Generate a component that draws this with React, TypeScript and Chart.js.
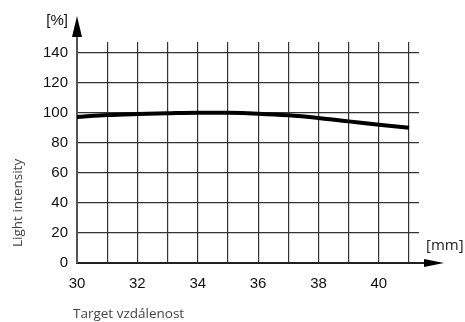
import React, { useEffect, useRef } from "react";
import { Chart, registerables } from "chart.js";

Chart.register(...registerables);

const distances = [30, 31, 32, 33, 34, 35, 36, 37, 38, 39, 40, 41];
const intensity = [97.1, 98.4, 99.1, 99.6, 100, 99.9, 99.3, 98.2, 96.4, 94.2, 92, 90];
const xTickLabels = ["30", "32", "34", "36", "38", "40"];
const yTickLabels = ["0", "20", "40", "60", "80", "100", "120", "140"];
const yUnit = "[%]";
const xUnit = "[mm]";
const yTitle = "Light intensity";
const xTitle = "Target vzdálenost";

const arrowsPlugin = {
  id: "arrowsAndLabels",
  afterDraw(chart: any) {
    const { ctx, chartArea } = chart;
    const left = chartArea.left;
    const bottom = chartArea.bottom;
    ctx.save();
    // y axis extension + arrow
    ctx.strokeStyle = "#555";
    ctx.lineWidth = 2;
    ctx.beginPath();
    ctx.moveTo(left, chartArea.top);
    ctx.lineTo(left, chartArea.top - 8);
    ctx.stroke();
    ctx.fillStyle = "#000";
    ctx.beginPath();
    ctx.moveTo(left, chartArea.top - 26);
    ctx.lineTo(left - 5, chartArea.top - 5);
    ctx.lineTo(left + 5, chartArea.top - 5);
    ctx.closePath();
    ctx.fill();
    // x axis extension + arrow
    ctx.strokeStyle = "#222";
    ctx.beginPath();
    ctx.moveTo(chartArea.right, bottom);
    ctx.lineTo(chartArea.right + 8, bottom);
    ctx.stroke();
    ctx.beginPath();
    ctx.moveTo(chartArea.right + 25, bottom);
    ctx.lineTo(chartArea.right + 5, bottom - 4);
    ctx.lineTo(chartArea.right + 5, bottom + 4);
    ctx.closePath();
    ctx.fill();
    // unit labels
    ctx.fillStyle = "#111";
    ctx.font = "15px 'Liberation Sans', Arial, sans-serif";
    ctx.textAlign = "right";
    ctx.textBaseline = "middle";
    ctx.fillText(yUnit, left - 9, chartArea.top - 21);
    ctx.fillStyle = "#222";
    ctx.font = "15px 'Open Sans', sans-serif";
    ctx.textAlign = "left";
    ctx.fillText(xUnit, chartArea.right + 7, bottom - 17);
    // axis titles
    ctx.fillStyle = "#444";
    ctx.font = "13.5px 'Open Sans', sans-serif";
    ctx.textAlign = "left";
    ctx.fillText(xTitle, left - 4, 314);
    ctx.translate(18, bottom - 16);
    ctx.rotate(-Math.PI / 2);
    ctx.fillText(yTitle, 0, 0);
    ctx.restore();
  },
};

export default function App() {
  const canvasRef = useRef<HTMLCanvasElement | null>(null);

  useEffect(() => {
    if (!canvasRef.current) return;
    const chart = new Chart(canvasRef.current, {
      type: "line",
      data: {
        datasets: [
          {
            data: distances.map((d, i) => ({ x: d, y: intensity[i] })),
            borderColor: "#000",
            borderWidth: 4,
            pointRadius: 0,
            tension: 0.4,
            cubicInterpolationMode: "monotone",
            fill: false,
          },
        ],
      },
      options: {
        responsive: false,
        animation: false,
        layout: { padding: { top: 42, right: 46, left: 0, bottom: 0 } },
        plugins: { legend: { display: false }, tooltip: { enabled: false }, title: { display: false } },
        scales: {
          x: {
            type: "linear",
            min: 30,
            max: 41.33,
            afterFit: (scale: any) => {
              scale.height = 322 - 263;
            },
            grid: { color: "#333", lineWidth: 1.2, drawTicks: false },
            border: { color: "#222", width: 2 },
            ticks: {
              stepSize: 1,
              includeBounds: false,
              padding: 12,
              color: "#111",
              font: { family: "'Liberation Sans', Arial, sans-serif", size: 15 },
              maxRotation: 0,
              autoSkip: false,
              callback: (v: any) => (xTickLabels.includes(String(v)) ? String(v) : ""),
            },
          },
          y: {
            type: "linear",
            min: 0,
            max: 147,
            afterFit: (scale: any) => {
              scale.width = 77;
            },
            grid: { color: "#333", lineWidth: 1.2, drawTicks: false },
            border: { color: "#555", width: 2 },
            ticks: {
              stepSize: 20,
              includeBounds: false,
              padding: 9,
              color: "#111",
              font: { family: "'Liberation Sans', Arial, sans-serif", size: 15 },
              callback: (v: any) => (yTickLabels.includes(String(v)) ? String(v) : ""),
            },
          },
        },
      },
      plugins: [arrowsPlugin],
    });
    return () => chart.destroy();
  }, []);

  return (
    <div style={{ position: "fixed", left: 0, top: 0, width: 465, height: 322, background: "#fff" }}>
      <canvas ref={canvasRef} width={465} height={322} style={{ display: "block" }} />
    </div>
  );
}
